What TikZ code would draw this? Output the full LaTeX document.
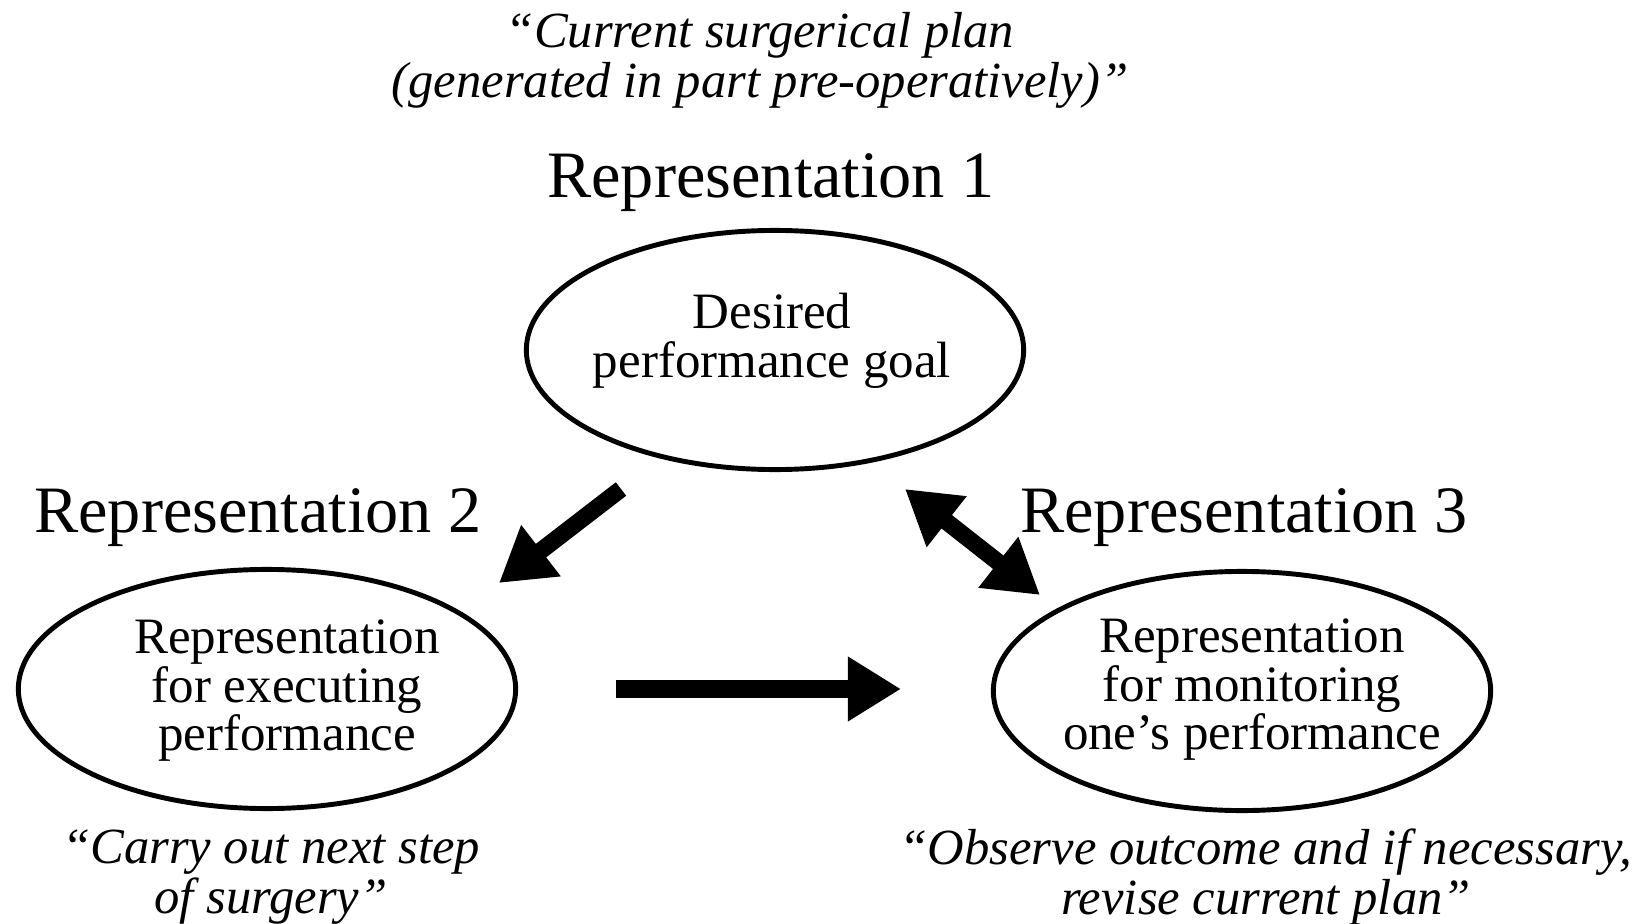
\documentclass[tikz,border=0pt]{standalone}
\usepackage{fontspec}
\setmainfont{Liberation Serif}
\usetikzlibrary{shapes.geometric,arrows.meta}
\begin{document}
\begin{tikzpicture}[x=0.01cm,y=-0.01cm,
  oval/.style={draw,line width=1.4pt,ellipse,minimum width=4.97cm,minimum height=2.39cm,inner sep=0pt},
  body/.style={align=center,inner sep=0pt,font=\fontsize{14.5}{13.8}\selectfont},
  heading/.style={anchor=base,inner sep=0pt,font=\fontsize{18.85}{22}\selectfont},
  saying/.style={align=center,inner sep=0pt,font=\fontsize{14.4}{14.2}\selectfont\itshape},
  fat/.style={line width=0.17cm,>={Triangle[length=0.53cm,width=0.61cm]}}]
  \useasboundingbox (0,0) rectangle (1641,924);
  \node[saying] (plan) at (760,60) {“Current surgerical plan\\(generated in part pre-operatively)”};
  \node[heading] (rep1) at (771,197) {Representation 1};
  \node[oval] (goal) at (775,350) {};
  \node[body] (goaltext) at (772,341) {Desired\\performance goal};
  \node[heading] (rep2) at (258,532) {Representation 2};
  \node[heading] (rep3) at (1244,532) {Representation 3};
  \node[oval] (exec) at (267,689) {};
  \node[body] (exectext) at (287,691) {Representation\\for executing\\performance};
  \node[oval] (monitor) at (1242,691) {};
  \node[body] (montext) at (1252,690) {Representation\\for monitoring\\one’s performance};
  \node[saying,font=\fontsize{14.4}{12.8}\selectfont\itshape] (step) at (271,877) {“Carry out next step\\of surgery”};
  \node[saying,font=\fontsize{14.4}{12.8}\selectfont\itshape] (revise) at (1266,877) {“Observe outcome and if necessary,\\revise current plan”};
  \coordinate (goalout) at (621,489);
  \coordinate (execin) at (499,583);
  \coordinate (goalend) at (905,489);
  \coordinate (monend) at (1040,595);
  \coordinate (execout) at (616,689);
  \coordinate (monin) at (901,689);
  \draw[fat,->] (goalout) -- (execin);
  \draw[fat,<->] (goalend) -- (monend);
  \draw[fat,->] (execout) -- (monin);
\end{tikzpicture}
\end{document}
